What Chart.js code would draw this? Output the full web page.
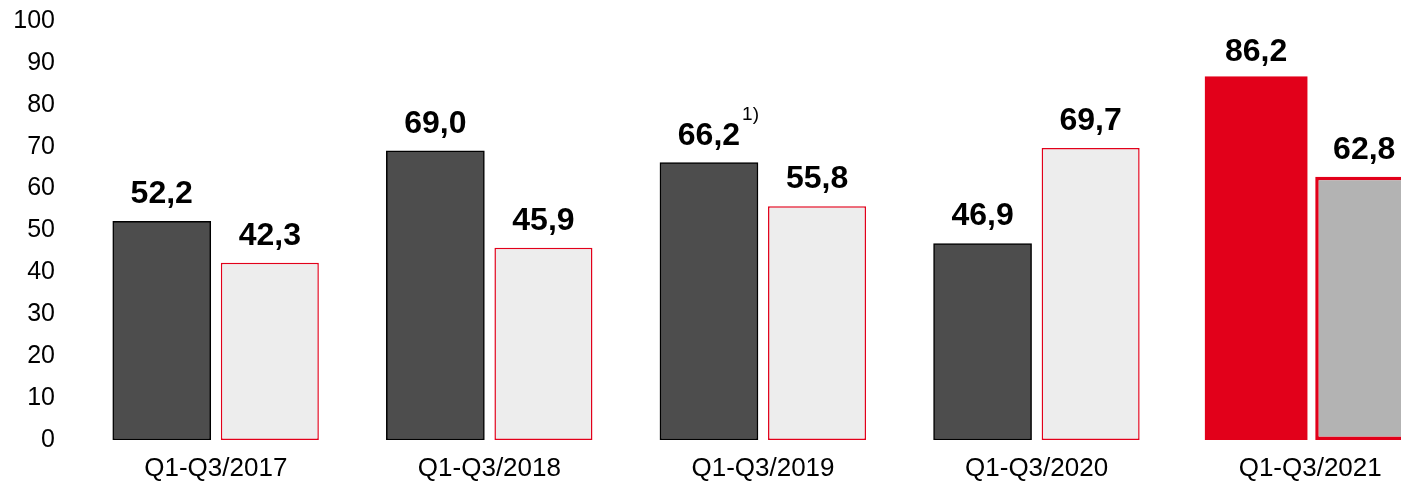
<!DOCTYPE html>
<html>
<head>
<meta charset="utf-8">
<script src="https://cdn.jsdelivr.net/npm/chart.js@4"></script>
<style>
  html, body { margin: 0; padding: 0; background: #fff; overflow: hidden; }
  #wrap { width: 1447px; height: 483px; }
</style>
</head>
<body>
<div id="wrap"><canvas id="myChart"></canvas></div>
<script>
const categories = ["Q1-Q3/2017", "Q1-Q3/2018", "Q1-Q3/2019", "Q1-Q3/2020", "Q1-Q3/2021"];
const firstValues = [52.2, 69.0, 66.2, 46.9, 86.2];
const secondValues = [42.3, 45.9, 55.8, 69.7, 62.8];
const firstNotes = ["", "", "1)", "", ""];
const yTicks = [0, 10, 20, 30, 40, 50, 60, 70, 80, 90, 100];

const RED = "#e2001a";
const FONT = "'Liberation Sans', Arial, sans-serif";

// value labels above bars ----------------------------------
const valueLabels = {
  id: "valueLabels",
  afterDatasetsDraw(chart) {
    const c = chart.ctx;
    c.save();
    chart.data.datasets.forEach(function (ds, di) {
      const meta = chart.getDatasetMeta(di);
      meta.data.forEach(function (bar, i) {
        const text = ds.data[i].toFixed(1).replace(".", ",");
        const y = bar.y - 18;
        c.font = "bold 32px " + FONT;
        c.fillStyle = "#000";
        c.textAlign = "center";
        c.textBaseline = "alphabetic";
        c.fillText(text, bar.x, y);
        const note = ds.notes ? ds.notes[i] : "";
        if (note) {
          const w = c.measureText(text).width;
          c.font = "19px " + FONT;
          c.textAlign = "left";
          c.fillText(note, bar.x + w / 2 + 2, y - 25);
        }
      });
    });
    c.restore();
  },
};

const ctx = document.getElementById("myChart");
const chart = new Chart(ctx, {
  type: "bar",
  data: {
    labels: categories,
    datasets: [
      {
        data: firstValues,
        notes: firstNotes,
        backgroundColor: ["#4d4d4d", "#4d4d4d", "#4d4d4d", "#4d4d4d", RED],
        borderColor: ["#000", "#000", "#000", "#000", RED],
        borderWidth: 1.5,
        borderSkipped: false,
        inflateAmount: (c) => (c.dataIndex === 4 ? 2.5 : 0.33),
      },
      {
        data: secondValues,
        backgroundColor: ["#ededed", "#ededed", "#ededed", "#ededed", "#b3b3b3"],
        borderColor: RED,
        borderWidth: [1.5, 1.5, 1.5, 1.5, 3.5],
        borderSkipped: false,
      },
    ],
  },
  options: {
    responsive: true,
    maintainAspectRatio: false,
    animation: false,
    categoryPercentage: 0.79,
    barPercentage: 0.907,
    layout: { padding: { top: 21, right: 0, bottom: 0, left: 0 } },
    plugins: {
      legend: { display: false },
      tooltip: { enabled: false },
    },
    scales: {
      x: {
        grid: { display: false, drawTicks: false },
        border: { display: false },
        ticks: { color: "#000", font: { family: FONT, size: 26 }, padding: 13, maxRotation: 0 },
        afterFit(scale) { scale.height = 43; },
      },
      y: {
        min: 0,
        max: 100,
        grid: { display: false, drawTicks: false },
        border: { display: false },
        afterBuildTicks(scale) { scale.ticks = yTicks.map((v) => ({ value: v })); },
        ticks: { color: "#000", font: { family: FONT, size: 25 }, padding: 24 },
        afterFit(scale) {
          scale.width = 79;
          scale.paddingTop = 0;
          scale.paddingBottom = 0;
        },
      },
    },
  },
  plugins: [valueLabels],
});
</script>
</body>
</html>
